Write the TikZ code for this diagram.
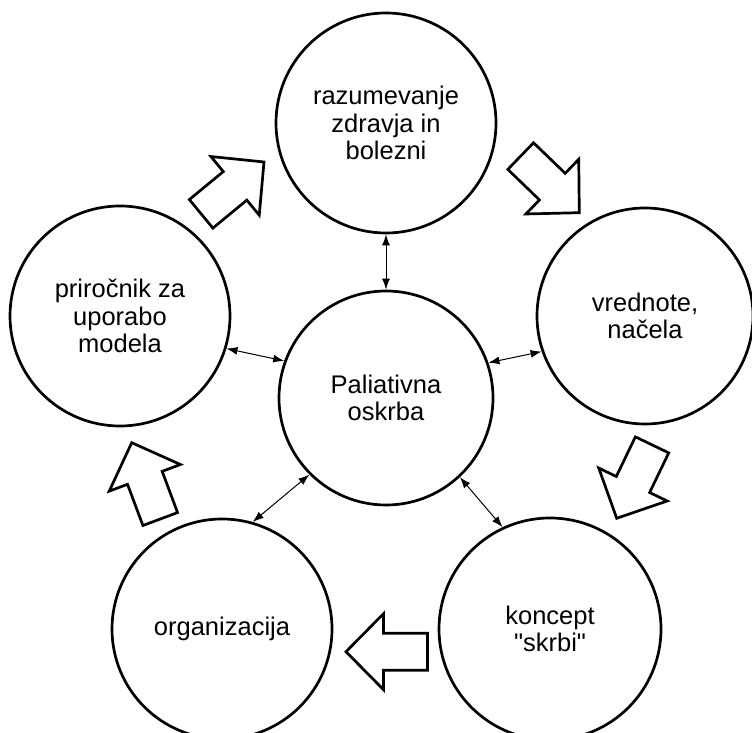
\documentclass[tikz,border=0pt]{standalone}
\usepackage{fontspec}
\setmainfont{Liberation Sans}
\newfontfamily\plainfont{Liberation Sans}
\usetikzlibrary{arrows.meta}
\begin{document}
\begin{tikzpicture}[x=1pt,y=1pt,
  bubble/.style={circle,draw,line width=2.7pt,inner sep=0pt,align=center,font=\plainfont\fontsize{25.5}{27.5}\selectfont},
  link/.style={line width=1pt,{Latex[length=11pt,width=8pt]}-{Latex[length=11pt,width=8pt]}},
  bigarrow/.style={line width=2.7pt,line join=miter},
  blockarrow/.pic={\draw[bigarrow] (0,0) -- (-37.5,38) -- (-37.5,18.5) -- (-81.5,18.5) -- (-81.5,-18.5) -- (-37.5,-18.5) -- (-37.5,-38) -- cycle;}
]
\fill[white] (0,0) rectangle (752,733);
\useasboundingbox (0,0) rectangle (752,733);
\node[bubble,minimum size=214pt] (C) at (386,335) {Paliativna\\oskrba};
\node[bubble,minimum size=220pt] (T) at (386,610) {razumevanje\\zdravja in\\bolezni};
\node[bubble,minimum size=220pt] (L) at (120,417) {priročnik za\\uporabo\\modela};
\node[bubble,minimum size=216pt] (R) at (645,417) {vrednote,\\načela};
\node[bubble,minimum size=222pt] (BR) at (550,104) {koncept\\"skrbi"};
\node[bubble,minimum size=220pt] (BL) at (222,104) {organizacija};
\draw[link] (C.90) -- (T.270);
\draw[link] (C.160) -- (L.-17);
\draw[link] (C.19) -- (R.199);
\draw[link] (C.-47) -- (BR.115);
\draw[link] (C.225) -- (BL.74);
\path (264,571) pic[rotate=39.5]{blockarrow};
\path (579.3,520.3) pic[rotate=-44]{blockarrow};
\path (616.7,214.7) pic[rotate=244.3]{blockarrow};
\path (346,81.3) pic[rotate=180]{blockarrow};
\path (131.7,290.3) pic[rotate=110.5]{blockarrow};
\end{tikzpicture}
\end{document}
